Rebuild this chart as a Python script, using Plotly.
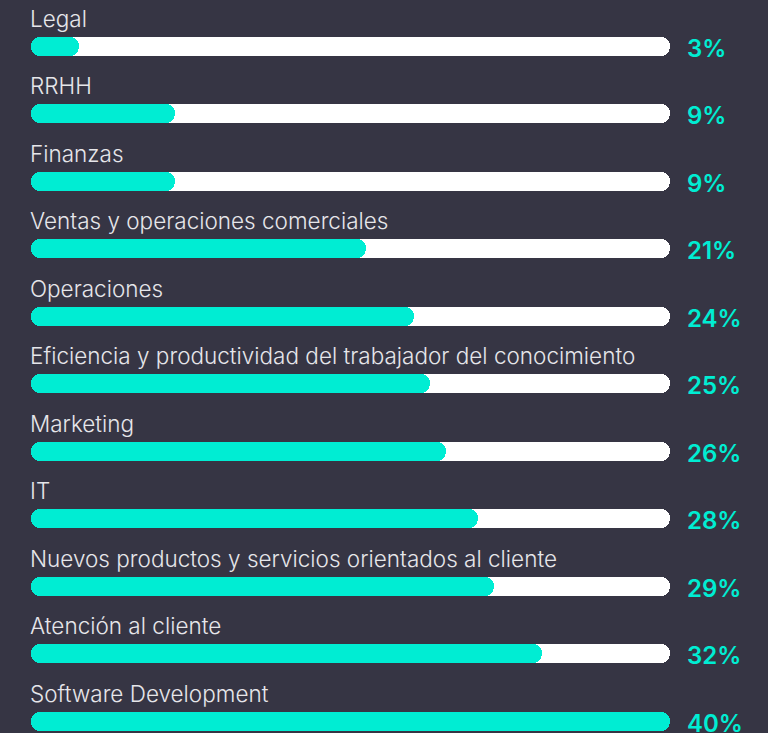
import plotly.graph_objects as go

categories = ["Legal", "RRHH", "Finanzas", "Ventas y operaciones comerciales", "Operaciones",
              "Eficiencia y productividad del trabajador del conocimiento", "Marketing", "IT",
              "Nuevos productos y servicios orientados al cliente", "Atención al cliente",
              "Software Development"]
values = [3, 9, 9, 21, 24, 25, 26, 28, 29, 32, 40]
max_value = 40

BG = "#363544"
TEAL = "#00EDD3"
W, H = 768, 733
left_px, right_px = 31, 670
first_px, step_px = 46, 67.5
bar_px = 19

idx = list(range(len(categories)))
y_top = -first_px / step_px
y_bot = (H - first_px) / step_px
width_frac = bar_px / step_px

fig = go.Figure()

def pill(vals, color):
    fig.add_trace(go.Bar(y=idx, x=vals, base=[0] * len(vals), orientation="h",
                         marker=dict(color=color, line=dict(width=0), cornerradius=bar_px / 2),
                         width=width_frac, hoverinfo="skip", showlegend=False))

pill([max_value] * len(categories), "#FFFFFF")
pill(values, TEAL)

annotations = []
for i, (c, v) in enumerate(zip(categories, values)):
    annotations.append(dict(x=0, y=i, xref="x", yref="y", text=c, showarrow=False,
                            xanchor="left", yanchor="middle", xshift=-3, yshift=28,
                            font=dict(family="Inter", size=22.5, color="#E6E6EA", weight=300)))
    annotations.append(dict(x=max_value, y=i, xref="x", yref="y", text=f"{v}%", showarrow=False,
                            xanchor="left", yanchor="middle", xshift=15, yshift=-2,
                            font=dict(family="Inter", size=24, color=TEAL, weight=600)))

fig.update_layout(
    width=W, height=H, paper_bgcolor=BG, plot_bgcolor=BG,
    margin=dict(l=left_px, r=W - right_px, t=0, b=0),
    barmode="overlay", bargap=0,
    xaxis=dict(range=[0, max_value], visible=False, fixedrange=True),
    yaxis=dict(range=[y_bot, y_top], visible=False, fixedrange=True),
    annotations=annotations,
)

fig.write_html("out.html")
